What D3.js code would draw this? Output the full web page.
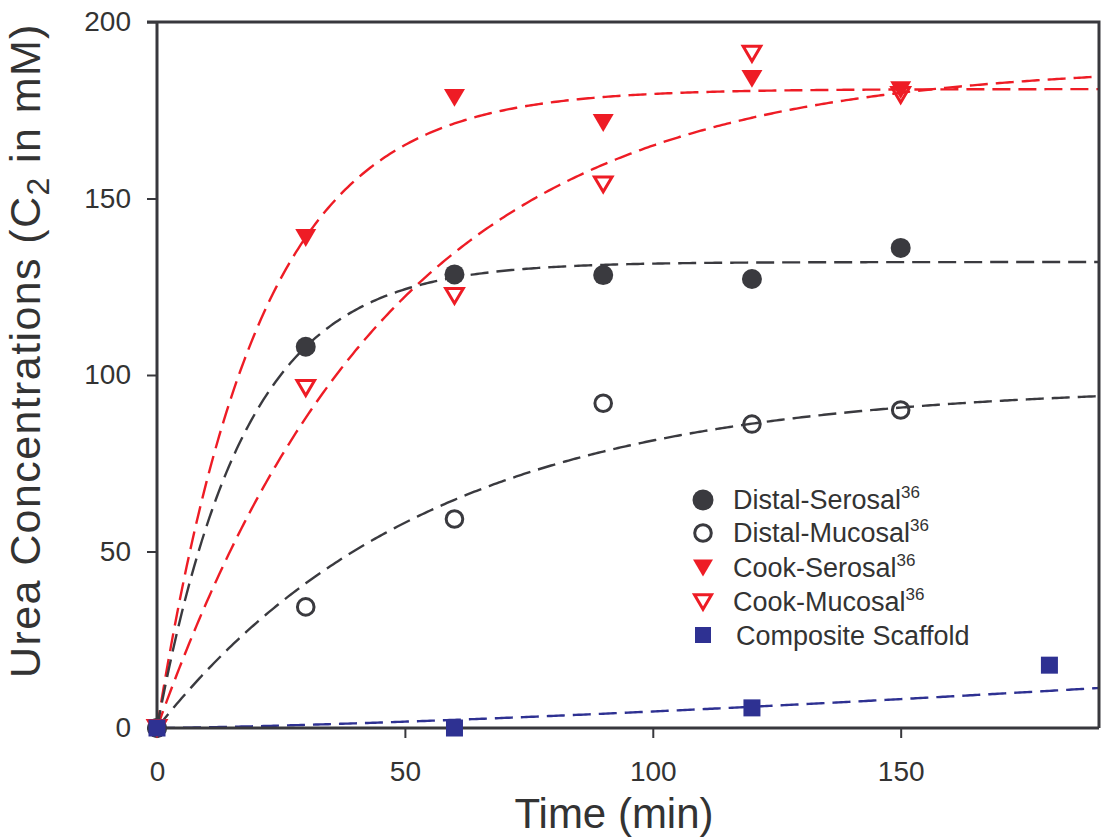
<!DOCTYPE html>
<html><head><meta charset="utf-8">
<script src="https://cdn.jsdelivr.net/npm/d3@7"></script>
<style>body{margin:0;background:#fff}svg{display:block}text{font-family:"Liberation Sans",Arial,sans-serif;fill:#333}</style>
</head><body><svg id="c" width="1109" height="839"></svg>
<script>
const times = [0, 30, 60, 90, 120, 150];
const distalSerosal = [0, 108, 128.5, 128.3, 127.2, 136];
const distalMucosal = [0, 34.3, 59.2, 92, 86.1, 90.1];
const cookSerosal = [0, 138.8, 178.5, 171.4, 183.9, 180.7];
const cookMucosal = [0, 96.3, 122.4, 154, 191, 179.3];
const compositeTimes = [0, 60, 120, 180];
const compositeValues = [0, 0, 5.7, 17.8];
// fitted curve parameters: y = a(1 - exp(-b t))
const fitDistalSerosal = [132, 0.0568];
const fitDistalMucosal = [97, 0.0183];
const fitCookSerosal = [181, 0.0487];
const fitCookMucosal = [188, 0.021];
// composite fit: y = a t^p
const fitComposite = [0.00813, 1.38];
const xTicks = [0, 50, 100, 150];
const yTicks = [0, 50, 100, 150, 200];

const svg = d3.select('#c');
const L = 157, R = 1099, T = 22, B = 728;
const x = d3.scaleLinear().domain([0, 190]).range([L, R]);
const y = d3.scaleLinear().domain([0, 200]).range([B, T]);
const AX = '#38383d', RED = '#ee1c25', BLK = '#3a3a3f', NAVY = '#2e3192';

// fit curves
const ts = d3.range(0, 190.01, 0.5);
const line = d3.line().x(d => x(d[0])).y(d => y(d[1]));
function expFit(p){ return ts.map(t => [t, p[0]*(1-Math.exp(-p[1]*t))]); }
const curves = [
  [expFit(fitCookSerosal), RED],
  [expFit(fitCookMucosal), RED],
  [expFit(fitDistalSerosal), BLK],
  [expFit(fitDistalMucosal), BLK],
  [ts.map(t => [t, fitComposite[0]*Math.pow(t, fitComposite[1])]), NAVY]
];
curves.forEach(([d, c]) => svg.append('path').attr('d', line(d)).attr('fill','none')
  .attr('stroke', c).attr('stroke-width', 2.4).attr('stroke-dasharray','18,8'));

// axes
const gx = svg.append('g').attr('transform', `translate(0,${B})`)
  .call(d3.axisBottom(x).tickValues(xTicks).tickSize(10).tickPadding(23));
const gy = svg.append('g').attr('transform', `translate(${L},0)`)
  .call(d3.axisLeft(y).tickValues(yTicks).tickSize(10).tickPadding(16));
[gx, gy].forEach(g => {
  g.select('.domain').attr('stroke', AX).attr('stroke-width', 3);
  g.selectAll('.tick line').attr('stroke', AX).attr('stroke-width', 2);
  g.selectAll('.tick text').style('font-size', '28px').style('font-family','"Liberation Sans",Arial,sans-serif').attr('fill', '#333');
});
gx.select('.domain').attr('d', `M${L},0H${R}`);
gy.select('.domain').attr('d', `M0,${B}V${T}`);
svg.append('path').attr('d', `M${L-10},${T}H${R}V${B}`).attr('fill','none').attr('stroke', AX).attr('stroke-width', 3);

// markers
const tri = (cx, cy, s) => `M${cx-s},${cy-s*0.85}L${cx+s},${cy-s*0.85}L${cx},${cy+s*0.85}Z`;
function circles(vals, filled){
  svg.append('g').selectAll('circle').data(vals).join('circle')
    .attr('cx', (d,i) => x(times[i])).attr('cy', d => y(d))
    .attr('r', filled ? 10 : 8.3)
    .attr('fill', filled ? BLK : 'none').attr('stroke', BLK).attr('stroke-width', filled ? 0 : 3);
}
function tris(vals, filled){
  svg.append('g').selectAll('path').data(vals).join('path')
    .attr('d', (d,i) => tri(x(times[i]), y(d), filled ? 10.5 : 8.8))
    .attr('fill', filled ? RED : 'none').attr('stroke', RED).attr('stroke-width', filled ? 0 : 3);
}
circles(distalSerosal, true);
circles(distalMucosal, false);
tris(cookSerosal, true);
tris(cookMucosal, false);
svg.append('g').selectAll('rect').data(compositeValues).join('rect')
  .attr('x', (d,i) => x(compositeTimes[i]) - 8.5).attr('y', d => y(d) - 8.5)
  .attr('width', 17).attr('height', 17).attr('fill', NAVY);

// legend
const legend = [
  ['Distal-Serosal', '36', 'fc', 500],
  ['Distal-Mucosal', '36', 'oc', 533],
  ['Cook-Serosal', '36', 'ft', 568],
  ['Cook-Mucosal', '36', 'ot', 602],
  ['Composite Scaffold', '', 'sq', 635]
];
const lx = 703;
legend.forEach(([name, sup, m, ly]) => {
  if (m === 'fc') svg.append('circle').attr('cx', lx).attr('cy', ly).attr('r', 10.5).attr('fill', BLK);
  if (m === 'oc') svg.append('circle').attr('cx', lx).attr('cy', ly).attr('r', 8.3).attr('fill','none').attr('stroke', BLK).attr('stroke-width', 3);
  if (m === 'ft') svg.append('path').attr('d', tri(lx, ly, 10)).attr('fill', RED);
  if (m === 'ot') svg.append('path').attr('d', tri(lx, ly, 8.5)).attr('fill','none').attr('stroke', RED).attr('stroke-width', 3);
  if (m === 'sq') svg.append('rect').attr('x', lx-8).attr('y', ly-8).attr('width', 16).attr('height', 16).attr('fill', NAVY);
  const t = svg.append('text').attr('x', m === 'sq' ? 736 : 733).attr('y', ly + 9 + (m === 'sq' ? 1 : 0)).style('font-size', '27px');
  t.append('tspan').text(name);
  if (sup) t.append('tspan').attr('dy', -11).style('font-size', '17px').text(sup);
});

// axis titles
svg.append('text').attr('x', 614).attr('y', 828).attr('text-anchor','middle').style('font-size','42px').text('Time (min)');
const yt = svg.append('text').attr('transform', 'translate(40,678) rotate(-90)').attr('text-anchor','start')
  .style('font-size','43px').style('letter-spacing','1.4px');
yt.append('tspan').text('Urea Concentrations (C');
yt.append('tspan').attr('dy', 9).style('font-size','32px').text('2');
yt.append('tspan').attr('dy', -9).text(' in mM)');
</script></body></html>
